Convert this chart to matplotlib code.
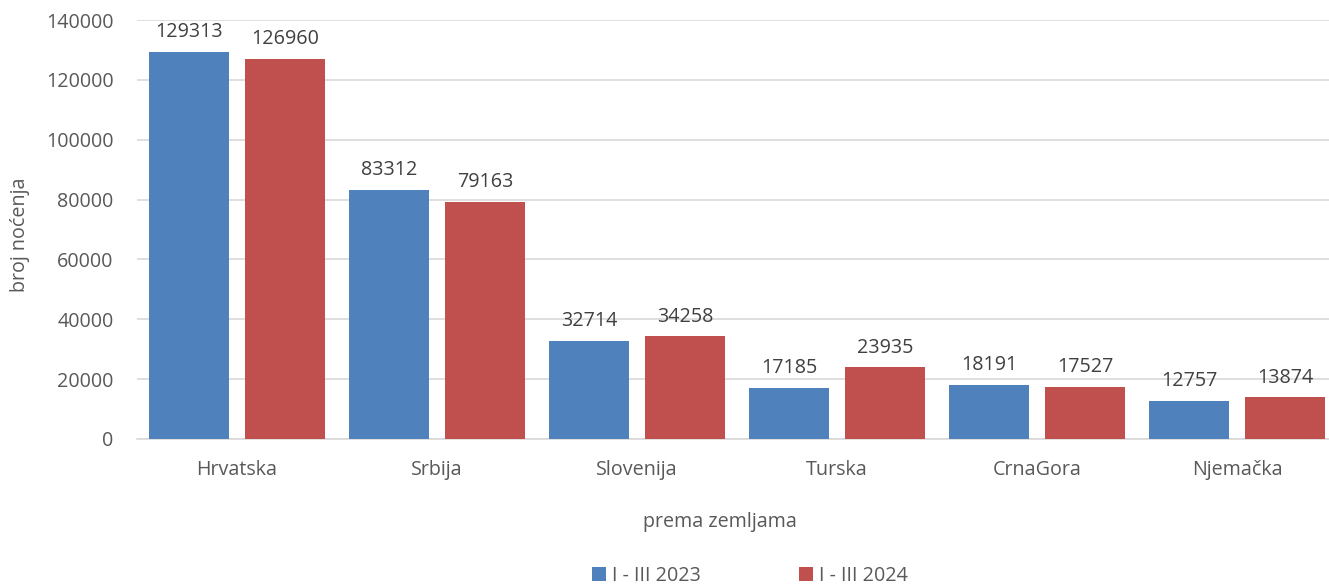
import numpy as np
import matplotlib.pyplot as plt

plt.rcParams["font.family"] = ["Open Sans", "DejaVu Sans"]

countries = ["Hrvatska", "Srbija", "Slovenija", "Turska", "CrnaGora", "Njemačka"]
nights_2023 = [129313, 83312, 32714, 17185, 18191, 12757]
nights_2024 = [126960, 79163, 34258, 23935, 17527, 13874]
series_labels = ["I - III 2023", "I - III 2024"]

BLUE = "#4F81BD"
RED = "#C0504D"
TEXT = "#595959"
GRID = "#D9D9D9"
FS = 14.2


def plot_nights():
    fig = plt.figure(figsize=(13.29, 5.88), dpi=100)
    ax = fig.add_axes([137 / 1329, 149 / 588, 1200 / 1329, 419 / 588])

    x = np.arange(len(countries))
    w = 0.4
    b1 = ax.bar(x - 0.24, nights_2023, w, color=BLUE, label=series_labels[0], zorder=3)
    b2 = ax.bar(x + 0.24, nights_2024, w, color=RED, label=series_labels[1], zorder=3)

    for bars in (b1, b2):
        for rect in bars:
            h = rect.get_height()
            ax.annotate(f"{int(h)}", (rect.get_x() + rect.get_width() / 2, h),
                        xytext=(0, 7), textcoords="offset points",
                        ha="center", va="bottom", fontsize=FS, color="#404040")

    ax.set_xlim(-0.5, len(countries) - 0.5)
    ax.set_ylim(0, 140000)
    ax.set_yticks(range(0, 140001, 20000))
    ax.set_xticks(x)
    ax.set_xticklabels(countries)
    ax.tick_params(axis="both", length=0, labelsize=FS, labelcolor=TEXT)
    ax.tick_params(axis="y", pad=17)
    ax.tick_params(axis="x", pad=15)
    ax.grid(axis="y", color=GRID, linewidth=1.2, zorder=0)
    for side in ("top", "right", "left"):
        ax.spines[side].set_visible(False)
    ax.spines["bottom"].set_color(GRID)
    ax.spines["bottom"].set_linewidth(1.2)

    ax.set_xlabel("prema zemljama", fontsize=FS, color=TEXT)
    ax.set_ylabel("broj noćenja", fontsize=FS, color=TEXT)
    ax.xaxis.set_label_coords((720 - 137) / 1200, -(512 - 439) / 419)
    ax.yaxis.set_label_coords(-(137 - 30) / 1200, (439 - 235) / 419)

    fig.legend(handles=[b1, b2], labels=series_labels, loc="lower center",
               bbox_to_anchor=(750 / 1329, -6 / 588), ncol=2, frameon=False,
               fontsize=FS, labelcolor=TEXT, handlelength=0.7, handleheight=0.7,
               handletextpad=0.3, columnspacing=5, borderaxespad=0)

    fig.savefig("out.png", dpi=100)


if __name__ == "__main__":
    plot_nights()
